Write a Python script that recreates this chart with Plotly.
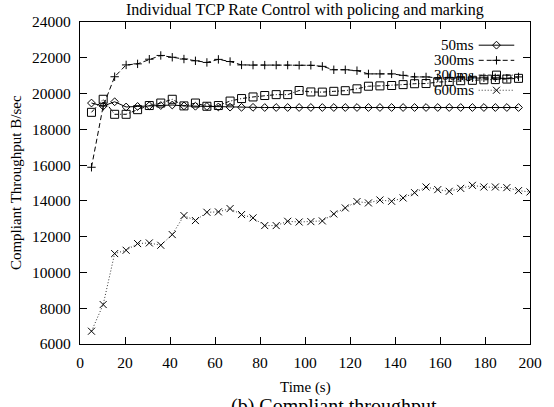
import plotly.graph_objects as go

# Sample times (s)
time_s = [5.1, 10.3, 15.4, 20.5, 25.6, 30.8, 35.9, 41.0, 46.2, 51.3,
          56.4, 61.5, 66.7, 71.8, 76.9, 82.1, 87.2, 92.3, 97.4, 102.6,
          107.7, 112.8, 117.9, 123.1, 128.2, 133.3, 138.5, 143.6, 148.7, 153.8,
          159.0, 164.1, 169.2, 174.4, 179.5, 184.6, 189.7, 194.9, 200.0]

# Compliant throughput (B/sec) per RTT setting
rtt_50ms = [19470, 19300, 19540, 19250, 19280, 19320, 19330, 19360, 19310, 19290,
            19280, 19250, 19240, 19230, 19230, 19220, 19220, 19220, 19220, 19220,
            19220, 19220, 19220, 19220, 19220, 19220, 19220, 19220, 19220, 19220,
            19220, 19220, 19220, 19220, 19220, 19220, 19220, 19220]

rtt_300ms_a = [15880, 19300, 20940, 21600, 21660, 21920, 22130, 22030, 21930, 21830,
               21740, 21910, 21790, 21600, 21590, 21590, 21590, 21590, 21580, 21580,
               21520, 21330, 21330, 21280, 21100, 21100, 21100, 21020, 20930, 20930,
               20880, 20880, 20880, 20880, 20880, 20880, 20850, 20930]

rtt_300ms_b = [18950, 19680, 18840, 18840, 19100, 19330, 19470, 19680, 19310, 19470,
               19290, 19330, 19580, 19720, 19810, 19890, 19940, 19940, 20170, 20090,
               20080, 20125, 20160, 20265, 20410, 20430, 20450, 20500, 20550, 20560,
               20640, 20680, 20720, 20740, 20770, 20780, 20810, 20850]

rtt_600ms = [6714, 8205, 11055, 11240, 11614, 11650, 11520, 12116, 13178, 12900,
             13363, 13385, 13570, 13235, 13050, 12620, 12620, 12860, 12820, 12840,
             12880, 13270, 13605, 13960, 13885, 14050, 13977, 14163, 14460, 14777,
             14630, 14535, 14700, 14870, 14777, 14777, 14740, 14574, 14500]

series_names = ["50ms", "300ms", "300ms", "600ms"]
x_ticks = list(range(0, 201, 20))
y_ticks = list(range(6000, 24001, 2000))

FONT = "Liberation Serif"
INK = "black"

series = [rtt_50ms, rtt_300ms_a, rtt_300ms_b, rtt_600ms]
styles = [
    dict(dash="solid", symbol="diamond-open", size=6, color=INK),
    dict(dash="5px,3px", symbol="cross-thin-open", size=6, color=INK),
    dict(dash="4px,2px,1px,2px", symbol="square-open", size=8, color=INK),
    dict(dash="1px,2px", symbol="x-thin-open", size=7, color="#333333"),
]

fig = go.Figure()
for name, vals, st in zip(series_names, series, styles):
    fig.add_trace(go.Scatter(
        x=time_s[:len(vals)], y=vals, name=name, mode="lines+markers",
        line=dict(color=st["color"], width=1, dash=st["dash"]),
        marker=dict(symbol=st["symbol"], size=st["size"], color=INK,
                    line=dict(color=INK, width=1)),
        showlegend=False,
    ))

# Key (text right-aligned, sample line to its right), drawn on an overlay axis in [0, 1]
key_text_x = 0.879
key_line = (0.886, 0.965)
key_rows = [0.928, 0.881, 0.835, 0.788]
for name, st, ky in zip(series_names, styles, key_rows):
    fig.add_trace(go.Scatter(
        x=list(key_line), y=[ky, ky], xaxis="x2", yaxis="y2", mode="lines",
        line=dict(color=st["color"], width=1, dash=st["dash"]),
        showlegend=False, hoverinfo="skip"))
    fig.add_trace(go.Scatter(
        x=[sum(key_line) / 2], y=[ky], xaxis="x2", yaxis="y2", mode="markers",
        marker=dict(symbol=st["symbol"], size=st["size"], color=INK,
                    line=dict(color=INK, width=1)),
        showlegend=False, hoverinfo="skip"))
    fig.add_annotation(x=key_text_x, y=ky, xref="paper", yref="paper",
                       text=name, showarrow=False, xanchor="right", yanchor="middle",
                       font=dict(family=FONT, size=15, color=INK))

axis_common = dict(
    showline=True, linecolor=INK, linewidth=1.3, mirror="ticks",
    ticks="inside", ticklen=7, tickcolor=INK, tickwidth=1,
    showgrid=False, zeroline=False,
    tickfont=dict(family=FONT, size=15.5, color=INK),
)

fig.update_layout(
    width=554, height=407,
    margin=dict(l=80, r=21, t=22, b=63),
    paper_bgcolor="white", plot_bgcolor="white",
    xaxis=dict(range=[0, 200], tickvals=x_ticks, ticklabelstandoff=4, **axis_common),
    yaxis=dict(range=[6000, 24000], tickvals=y_ticks, tickformat="d",
               ticklabelstandoff=5, **axis_common),
    xaxis2=dict(range=[0, 1], overlaying="x", visible=False, fixedrange=True),
    yaxis2=dict(range=[0, 1], overlaying="y", visible=False, fixedrange=True),
)

fig.add_annotation(x=0.5, y=1.038, xref="paper", yref="paper",
                   text="Individual TCP Rate Control with policing and marking",
                   showarrow=False, xanchor="center", yanchor="middle",
                   font=dict(family=FONT, size=16, color=INK))
fig.add_annotation(x=-0.142, y=0.5, xref="paper", yref="paper",
                   text="Compliant Throughput B/sec", textangle=-90,
                   showarrow=False, xanchor="center", yanchor="middle",
                   font=dict(family=FONT, size=15, color=INK))
fig.add_annotation(x=0.5, y=-0.135, xref="paper", yref="paper",
                   text="Time (s)", showarrow=False, xanchor="center", yanchor="middle",
                   font=dict(family=FONT, size=15, color=INK))
fig.add_annotation(x=0.565, y=-0.151, xref="paper", yref="paper",
                   text="(b) Compliant throughput", showarrow=False,
                   xanchor="center", yanchor="top",
                   font=dict(family=FONT, size=20, color=INK))

fig.write_html("out.html")
